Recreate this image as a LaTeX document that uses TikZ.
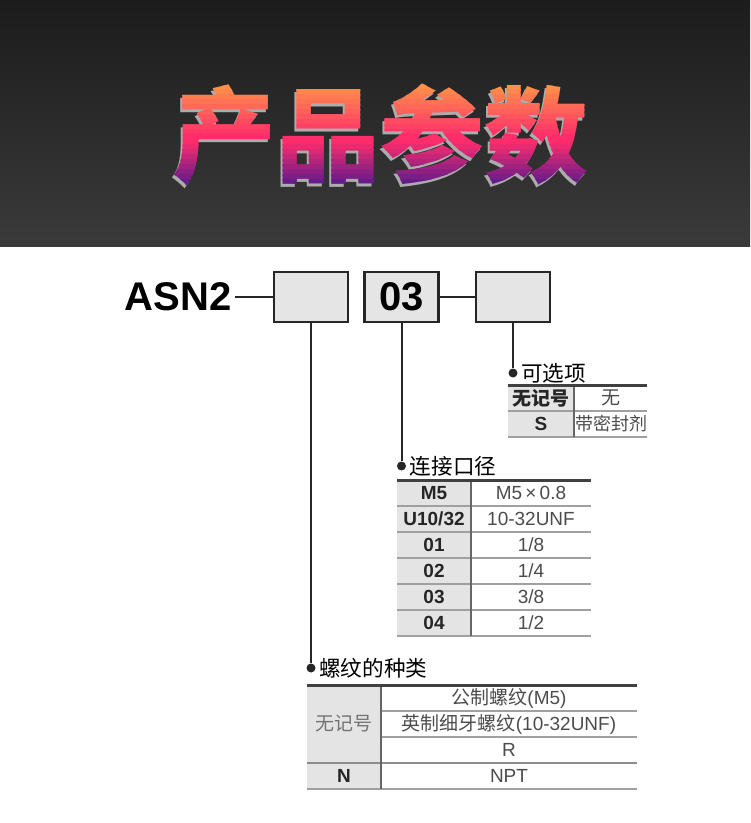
\documentclass[tikz,border=0pt]{standalone}
\usepackage{fontspec}
\setmainfont{Liberation Sans}
\newfontfamily\cjk{Noto Sans CJK SC}
\usepackage{tikz}
\usetikzlibrary{positioning}
\def\rowstep{26}
\definecolor{hdrtop}{HTML}{1C1C1C}
\definecolor{hdrbot}{HTML}{3A3A3A}
\definecolor{ttlorange}{HTML}{FF9A45}
\definecolor{ttlpink}{HTML}{FF2C6C}
\definecolor{ttlpurple}{HTML}{531A8E}
\definecolor{keygray}{HTML}{E4E4E4}
\definecolor{rulegray}{HTML}{A0A0A0}
\tikzset{
  bigttl/.style={font=\cjk\bfseries\fontsize{52}{52}\selectfont, inner sep=0pt},
  codebox/.style={
    draw=black!85,
    line width=1.2pt,
    fill=black!10,
    minimum width=37pt,
    minimum height=25pt,
    inner sep=0pt,
    font=\bfseries\fontsize{20}{20}\selectfont
  },
  code/.style={inner sep=1.5pt, font=\bfseries\fontsize{20}{20}\selectfont},
  link/.style={draw=black!85, line width=1pt},
  pin/.style={circle, fill=black!85, minimum size=4.5pt, inner sep=0pt},
  ttl/.style={font=\cjk\fontsize{10.8}{12}\selectfont, inner sep=0pt, anchor=west},
  keycell/.style={font=\bfseries\fontsize{9.5}{11}\selectfont, text=black!85, inner sep=0pt},
  valcell/.style={font=\fontsize{9.5}{11}\selectfont, text=black!70, inner sep=0pt},
  toprule/.style={draw=black!75, line width=1.5pt},
  midrule/.style={draw=rulegray, line width=1pt},
  colrule/.style={draw=black!60, line width=0.6pt},
  keyfill/.style={fill=keygray},
}
\newcommand{\SpecRows}[5]{%
  \foreach \k/\v [count=\i] in {#5} {
    \node[keycell] (#1k\i) at (#2, {#4+(\i-0.5)*\rowstep}) {\k};
    \node[valcell] (#1v\i) at (#3, {#4+(\i-0.5)*\rowstep}) {\v};
  }
}
% one horizontal band of the title, clipped
\newcommand{\TitleBand}[3]{%
  \begin{scope}
    \clip (150,#1) rectangle (610,{#1+5.6});
    \node[bigttl, text=#3] (ttlband#2) at (380,135) {产品参数};
  \end{scope}
}

\begin{document}
\begin{tikzpicture}[x=0.5pt, y=-0.5pt]
  \useasboundingbox (0,0) rectangle (750,823);
  % header
  \shade[top color=hdrtop, bottom color=hdrbot] (0,0) rectangle (750,247);
  \fill[white] (0,247) rectangle (750,823);
  \node[bigttl, text=gray!65] (titleshadow) at (378,137.5) {产品参数};
  \foreach \i in {0,...,11} {
    \pgfmathtruncatemacro\mix{100-\i*9}
    \TitleBand{80+\i*5}{a\i}{ttlorange!\mix!ttlpink}
  }
  \foreach \i in {0,...,9} {
    \pgfmathtruncatemacro\mix{100-\i*11}
    \TitleBand{140+\i*5}{b\i}{ttlpink!\mix!ttlpurple}
  }

  % order code
  \node[codebox] (boxA) at (311,297) {};
  \node[codebox] (boxB) at (401.5,297) {03};
  \node[codebox] (boxC) at (513,297) {};
  \node[code, anchor=east] (asn) at (235,297) {ASN2};
  \draw[link] (asn) -- (boxA);
  \draw[link] (boxB) -- (boxC);

  \node[pin] (pinC) at (boxC.south |- 0,373) {};
  \node[pin] (pinB) at (boxB.south |- 0,466) {};
  \node[pin] (pinA) at (boxA.south |- 0,668) {};
  \draw[link] (boxC.south) -- (pinC);
  \draw[link] (boxB.south) -- (pinB);
  \draw[link] (boxA.south) -- (pinA);

  % options
  \node[ttl, right=1.5pt of pinC] (optTitle) {可选项};
  \fill[keyfill] (508,385) rectangle (574,437);
  \draw[midrule] (508,411) -- (647,411);
  \draw[midrule] (508,437) -- (647,437);
  \draw[colrule] (574,385) -- (574,437);
  \draw[toprule] (508,385) -- (647,385);
  \SpecRows{opt}{541}{611}{385}{{\cjk 无记号}/{\cjk 无}, S/{\cjk\fontsize{9}{11}\selectfont 带密封剂}}

  % port size
  \node[ttl, right=1.5pt of pinB] (portTitle) {连接口径};
  \fill[keyfill] (397,480) rectangle (471,636);
  \foreach \j in {1,...,6}
    \draw[midrule] (397,{480+\j*\rowstep}) -- (591,{480+\j*\rowstep});
  \draw[colrule] (471,480) -- (471,636);
  \draw[toprule] (397,480) -- (591,480);
  \SpecRows{port}{434}{531}{480}{M5/{M5\,×\,0.8}, {U10/32}/10-32UNF, 01/{1/8}, 02/{1/4}, 03/{3/8}, 04/{1/2}}

  % thread type
  \node[ttl, right=1.5pt of pinA] (threadTitle) {螺纹的种类};
  \fill[keyfill] (307,685) rectangle (381,789);
  \draw[midrule] (381,711) -- (637,711);
  \draw[midrule] (381,737) -- (637,737);
  \draw[midrule, draw=black!45, line width=1.4pt] (307,763) -- (637,763);
  \draw[midrule] (307,789) -- (637,789);
  \draw[colrule] (381,685) -- (381,789);
  \draw[toprule] (307,685) -- (637,685);
  \node[valcell, font=\cjk\fontsize{9.5}{11}\selectfont, text=black!55] (threadk1) at (344,724) {无记号};
  \node[keycell] (threadk2) at (344,776) {N};
  \foreach \v [count=\i] in {{\cjk 公制螺纹}(M5), {\cjk 英制细牙螺纹}(10-32UNF), R, NPT}
    \node[valcell] (threadv\i) at (509, {685+(\i-0.5)*\rowstep}) {\v};
\end{tikzpicture}
\end{document}
